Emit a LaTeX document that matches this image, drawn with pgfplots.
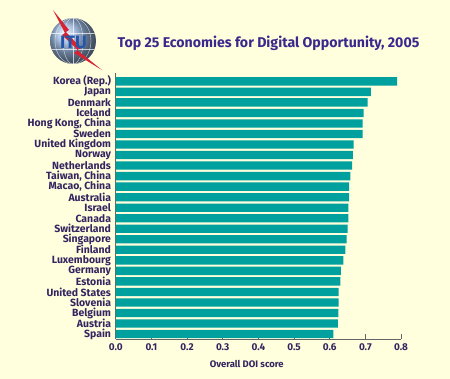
\documentclass[border=0pt]{standalone}
\usepackage{pgfplots}
\pgfplotsset{compat=1.18}
\usepackage{fontspec}
\setmainfont{Fira Sans}
\definecolor{bg}{RGB}{255,255,221}
\definecolor{barc}{RGB}{0,160,158}
\definecolor{txt}{RGB}{52,36,96}
\definecolor{ttl}{RGB}{58,40,140}
\definecolor{axc}{RGB}{100,100,100}
\definecolor{itublue}{RGB}{35,85,170}
\definecolor{globe}{RGB}{150,180,220}
\definecolor{itured}{RGB}{215,35,50}
\begin{document}
\begin{tikzpicture}
\fill[bg] (0,0) rectangle (450bp,379bp);
% logo
\shade[ball color=globe] (73bp,338bp) circle (23bp);
\begin{scope}
\clip (73bp,338bp) circle (23bp);
\draw[white,opacity=0.7,line width=0.4bp] (73bp,338bp) ellipse (10bp and 23bp);
\draw[white,opacity=0.7,line width=0.4bp] (73bp,338bp) ellipse (18bp and 23bp);
\draw[white,opacity=0.7,line width=0.4bp] (50bp,330bp) -- (96bp,330bp);
\draw[white,opacity=0.7,line width=0.4bp] (50bp,346bp) -- (96bp,346bp);
\draw[white,opacity=0.7,line width=0.4bp] (73bp,315bp) -- (73bp,361bp);
\end{scope}
\fill[itured] (53bp,369bp) -- (69bp,349bp) -- (66bp,347bp) -- (81bp,331bp) -- (77bp,329bp) -- (102bp,309bp) -- (74bp,326bp) -- (78bp,329bp) -- (62bp,344bp) -- (65bp,346bp) -- cycle;
\node[font=\bfseries\fontsize{18}{18}\selectfont, text=itublue, inner sep=0pt] at (73.5bp,336.5bp) {ITU};
% title
\node[font=\bfseries\fontsize{14.2}{16}\selectfont, text=ttl, inner sep=0pt] at (268.5bp,336bp) {Top 25 Economies for Digital Opportunity, 2005};
\begin{axis}[
  at={(115.7bp,40bp)}, anchor=south west,
  scale only axis, width=285.4bp, height=265.7bp,
  xbar, bar width=0.79,
  xmin=0, xmax=0.8, ymin=0.236, ymax=25.47,
  y dir=reverse,
  axis x line=bottom, axis y line=left,
  axis line style={-, draw=axc, line width=0.8bp},
  xtick={0,0.1,...,0.8},
  xtick style={draw=axc, line width=0.8bp},
  major tick length=5.5bp,
  tick align=inside,
  xticklabel style={font=\bfseries\fontsize{10}{10}\selectfont, text=txt, yshift=-1.5bp},
  xticklabel={\pgfmathprintnumber[fixed,fixed zerofill,precision=1]{\tick}},
  /pgf/number format/assume math mode=true,
  ytick={1,...,25},
  ytick style={draw=none},
  yticklabel style={font=\bfseries\fontsize{10.5}{10}\selectfont, text=txt, inner sep=0pt, xshift=-4.5bp},
  yticklabels={Korea (Rep.),Japan,Denmark,Iceland,{Hong Kong, China},Sweden,United Kingdom,Norway,Netherlands,{Taiwan, China},{Macao, China},Australia,Israel,Canada,Switzerland,Singapore,Finland,Luxembourg,Germany,Estonia,United States,Slovenia,Belgium,Austria,Spain},
  clip=false,
]
\addplot[draw=none, fill=barc] coordinates {
(0.789,1) (0.715,2) (0.706,3) (0.695,4) (0.692,5) (0.692,6) (0.667,7) (0.665,8) (0.663,9) (0.658,10) (0.654,11) (0.654,12) (0.652,13) (0.652,14) (0.650,15) (0.647,16) (0.644,17) (0.638,18) (0.631,19) (0.630,20) (0.625,21) (0.625,22) (0.624,23) (0.623,24) (0.610,25)
};
\end{axis}
\node[font=\bfseries\fontsize{9.5}{10}\selectfont, text=txt, inner sep=0pt] at (246.7bp,15.5bp) {Overall DOI score};
\pgfresetboundingbox
\path (0,0) rectangle (450bp,379bp);
\end{tikzpicture}
\end{document}
